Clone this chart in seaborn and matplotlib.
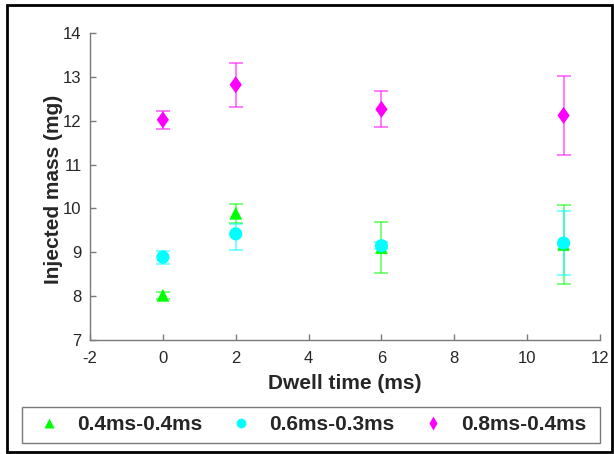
import matplotlib
matplotlib.use("Agg")
import matplotlib.pyplot as plt
import seaborn as sns
import pandas as pd
import numpy as np
from matplotlib.lines import Line2D
from matplotlib.patches import Rectangle
from matplotlib.markers import MarkerStyle

# ---- data ----
dwell = [0, 2, 6, 11]
series_names = ["0.4ms-0.4ms", "0.6ms-0.3ms", "0.8ms-0.4ms"]
mass_04 = [8.02, 9.89, 9.11, 9.18]
err_04 = [0.08, 0.22, 0.58, 0.90]
mass_06 = [8.89, 9.42, 9.15, 9.21]
err_06_low = [0.15, 0.36, 0.08, 0.72]
err_06_high = [0.15, 0.23, 0.08, 0.72]
mass_08 = [12.02, 12.82, 12.26, 12.12]
err_08 = [0.20, 0.50, 0.41, 0.90]

colors = ["#00FF00", "#00FFFF", "#FF00FF"]
diamond = MarkerStyle([(0, 1), (0.72, 0), (0, -1), (-0.72, 0), (0, 1)])
markers = ["^", "o", diamond]
marker_sizes = [85, 90, 150]

df = pd.DataFrame({
    "Dwell": dwell * 3,
    "Mass": mass_04 + mass_06 + mass_08,
    "Series": sum([[n] * len(dwell) for n in series_names], []),
})

sns.set_theme(style="white")
plt.rcParams["font.family"] = ["Liberation Sans", "DejaVu Sans"]
plt.rcParams["axes.unicode_minus"] = False

fig = plt.figure(figsize=(6.14, 4.54), dpi=100)
ax = fig.add_axes([90 / 614, 1 - 340 / 454, 510 / 614, 307 / 454])

# error bars
yerrs = [err_04, [err_06_low, err_06_high], err_08]
means = [mass_04, mass_06, mass_08]
for m, e, c in zip(means, yerrs, colors):
    ax.errorbar(dwell, m, yerr=e, fmt="none", ecolor=c, alpha=0.6,
                elinewidth=1.2, capsize=5, capthick=1.2, zorder=2)

sns.scatterplot(data=df, x="Dwell", y="Mass", hue="Series", style="Series",
                size="Series",
                hue_order=series_names, style_order=series_names,
                size_order=series_names,
                palette=dict(zip(series_names, colors)),
                markers=dict(zip(series_names, markers)),
                sizes=dict(zip(series_names, marker_sizes)),
                edgecolor="none", linewidth=0, ax=ax, legend=False, zorder=3)

ax.set_xlim(-2, 12)
ax.set_ylim(7, 14)
ax.set_xticks(np.arange(-2, 13, 2))
ax.set_yticks(np.arange(7, 15, 1))
ax.set_xlabel("Dwell time (ms)", fontsize=15, fontweight="bold", color="#262626")
ax.set_ylabel("Injected mass (mg)", fontsize=15, fontweight="bold", color="#262626")
ax.xaxis.set_label_coords(0.5, -0.11)
ax.yaxis.set_label_coords(-0.052, 0.49)

for s in ["top", "right"]:
    ax.spines[s].set_visible(False)
for s in ["left", "bottom"]:
    ax.spines[s].set_color("#7a7a7a")
    ax.spines[s].set_linewidth(1.0)
ax.tick_params(axis="both", direction="in", length=4, width=1.0, color="#7a7a7a",
               labelsize=12, labelcolor="#262626", left=True, bottom=True)
ax.tick_params(axis="x", pad=8)
ax.tick_params(axis="y", pad=6)

# legend frame drawn separately to match the reference box
fig.patches.append(Rectangle((22 / 614, 11 / 454), 578 / 614, 36 / 454,
                             transform=fig.transFigure, fill=False,
                             edgecolor="#7a7a7a", linewidth=1.0))
leg_markers = ["^", "o", "d"]
handles = [Line2D([0], [0], marker=mk, color="none", markerfacecolor=c,
                  markeredgecolor="none", markersize=7, linestyle="none")
           for mk, c in zip(leg_markers, colors)]
leg = fig.legend(handles, series_names, loc="center left",
                 bbox_to_anchor=(39 / 614, 1 - 425 / 454),
                 ncol=3, frameon=False, prop={"weight": "bold", "size": 15},
                 handlelength=1.0, handletextpad=0.85, borderaxespad=0,
                 borderpad=0, columnspacing=1.35)

fig.patches.append(Rectangle((7 / 614, 2 / 454), 605 / 614, 447 / 454,
                             transform=fig.transFigure, fill=False,
                             edgecolor="black", linewidth=2))

fig.savefig("out.png", dpi=100)
